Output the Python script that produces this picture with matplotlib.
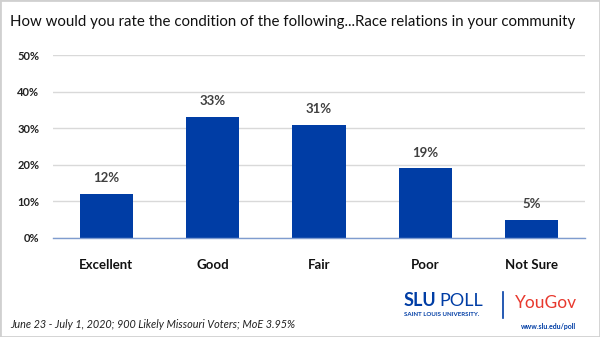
import matplotlib
matplotlib.use("Agg")
import matplotlib.pyplot as plt
from matplotlib.patches import Rectangle
from matplotlib.lines import Line2D

categories = ["Excellent", "Good", "Fair", "Poor", "Not Sure"]
values = [12, 33, 31, 19, 5]
yticks = [0, 10, 20, 30, 40, 50]
ytick_labels = ["0%", "10%", "20%", "30%", "40%", "50%"]
title = "How would you rate the condition of the following...Race relations in your community"
footnote = "June 23 - July 1, 2020; 900 Likely Missouri Voters; MoE 3.95%"

plt.rcParams['font.family'] = ['Lato', 'DejaVu Sans']

fig = plt.figure(figsize=(6.0, 3.37), dpi=100)
fig.patch.set_facecolor("white")
fig.patches.append(Rectangle((0, 0), 1, 1, transform=fig.transFigure, fill=False,
                             edgecolor="#d0d0d0", linewidth=2))

ax = fig.add_axes([53/600, 1-238/337, 532/600, 183/337])
x = list(range(len(categories)))
ax.bar(x, values, width=0.5, color="#003DA5", zorder=3)
ax.set_xlim(-0.5, len(categories)-0.5)
ax.set_ylim(0, 50)
ax.set_yticks(yticks)
ax.set_yticklabels(ytick_labels, fontsize=8, fontweight="bold", color="#222222")
ax.set_xticks(x)
ax.set_xticklabels(categories, fontsize=9.5, fontweight="bold", color="#111111")
ax.tick_params(axis="both", length=0)
ax.tick_params(axis="x", pad=15)
ax.tick_params(axis="y", pad=10)
ax.grid(axis="y", color="#d9d9d9", linewidth=1, zorder=0)
for s in ["top", "right", "left"]:
    ax.spines[s].set_visible(False)
ax.spines["bottom"].set_color("#7f9ccf")
ax.spines["bottom"].set_linewidth(1)
ax.spines["bottom"].set_zorder(4)
for xi, v in zip(x, values):
    ax.annotate(f"{v}%", (xi, v), xytext=(0, 7), textcoords="offset points",
                ha="center", va="bottom", fontsize=9.5, color="#404040", fontweight="bold")

fig.text(10/600, 1-22/337, title, fontsize=10.8, color="#111111", va="center", ha="left")
fig.text(10/600, 1-324/337, footnote, fontsize=7.8, style="italic", color="#222222",
         va="center", ha="left")

# logo
fig.text(404/600, 1-301/337, "SLU", fontsize=13, fontweight="bold", color="#003DA5",
         va="center", ha="left")
fig.text(439/600, 1-301/337, "POLL", fontsize=13, color="#003DA5", va="center", ha="left")
fig.text(404/600, 1-315/337, "SAINT LOUIS UNIVERSITY.", fontsize=4.4, fontweight="bold",
         color="#003DA5", va="center", ha="left")
fig.add_artist(Line2D([503/600, 503/600], [1-292/337, 1-318/337], transform=fig.transFigure,
                      color="#003DA5", linewidth=1.2))
fig.text(515/600, 1-303/337, "YouGov", fontsize=12.5, color="#E8392E", va="center", ha="left")
fig.text(576/600, 1-326/337, "www.slu.edu/poll", fontsize=5, fontweight="bold",
         color="#003DA5", va="center", ha="right")

fig.savefig("out.png", dpi=100, facecolor="white")
